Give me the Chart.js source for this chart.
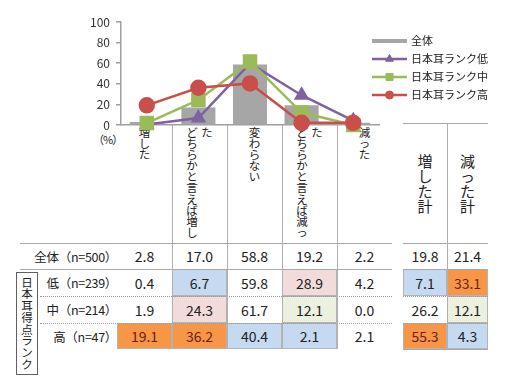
<!DOCTYPE html>
<html><head><meta charset="utf-8">
<script src="https://cdn.jsdelivr.net/npm/chart.js@4"></script>
<style>
body{margin:0;background:#fff;}
#wrap{position:relative;width:512px;height:384px;overflow:hidden;font-family:"Noto Sans CJK JP",sans-serif;color:#222;}
#c{position:absolute;left:0;top:0;z-index:2;pointer-events:none;}
.ab{position:absolute;}
.hl{position:absolute;height:0;border-top:1.5px solid #a8a8a8;}
.dl{position:absolute;height:0;border-top:1px dotted #9a9a9a;}
.vl{position:absolute;width:0;border-left:1.5px solid #b0b0b0;}
.cell{position:absolute;display:flex;align-items:center;justify-content:center;font-size:14px;box-sizing:border-box;}
.hdr{position:absolute;display:flex;justify-content:center;align-items:flex-start;}
.vs{display:flex;flex-direction:row;align-items:flex-start;}
.vc{width:1em;word-break:break-all;line-break:anywhere;text-align:center;}
</style></head>
<body><div id="wrap"><div id="tbl"></div><canvas id="c" width="512" height="384"></canvas></div>
<script>
// ---- data ----
const categories = ["増した","どちらかと言えば増した","変わらない","どちらかと言えば減った","減った"];
const seriesNames = ["全体","日本耳ランク低","日本耳ランク中","日本耳ランク高"];
const overall  = [2.8, 17.0, 58.8, 19.2, 2.2];
const rankLow  = [0.4, 6.7, 59.8, 28.9, 4.2];
const rankMid  = [1.9, 24.3, 61.7, 12.1, 0.0];
const rankHigh = [19.1, 36.2, 40.4, 2.1, 2.1];
const yTicks = [0, 20, 40, 60, 80, 100];
const rowLabels = ["全体（n=500）","低（n=239）","中（n=214）","高（n=47）"];
const totalLabels = ["増した計","減った計"];
const increaseTotal = [19.8, 7.1, 26.2, 55.3];
const decreaseTotal = [21.4, 33.1, 12.1, 4.3];
const groupLabel = "日本耳得点ランク";
const unitLabel = "（%）";

// ---- styles ----
const FONT = '"Noto Sans CJK JP", sans-serif';
const colors = {bar:'#a6a6a6', low:'#7f62a1', mid:'#9bbb59', high:'#c9504a'};
const fills = {o:'#f79646', b:'#c5d9f1', p:'#f2dcdb', g:'#ebf1de'};
const highlight = {"1,1":'b',"1,3":'p',"1,5":'b',"1,6":'o',
                   "2,1":'p',"2,3":'g',"2,6":'g',
                   "3,0":'o',"3,1":'o',"3,2":'b',"3,3":'b',"3,5":'o',"3,6":'b'};

// ---- table layout ----
const colX = [117,172,227,282,337,392];
const totX = [403,447,488];
const rowY = [243,269,296,323,349];
const tbl = document.getElementById('tbl');
function el(cls, css, html){const d=document.createElement('div');d.className=cls;d.style.cssText=css;if(html!==undefined)d.innerHTML=html;tbl.appendChild(d);return d;}
function vstack(text, size, lh, maxPer, gap){
  const chars = Array.from(text);
  let cols = [];
  for (let i = 0; i < chars.length; i += maxPer) cols.push(chars.slice(i, i+maxPer).join(''));
  return `<div class="vs" style="font-size:${size}px;line-height:${lh}px;gap:${gap}px;">` +
    cols.map(c => `<div class="vc">${c}</div>`).join('') + '</div>';
}

const tableRows = [overall, rankLow, rankMid, rankHigh];
const totals = [increaseTotal, decreaseTotal];
tableRows.forEach((row, r) => {
  const y0 = rowY[r], h = rowY[r+1]-rowY[r];
  row.forEach((v, c) => {
    const k = highlight[r+','+c];
    const bg = k ? `background:${fills[k]};border:1px solid #b4b4b4;` : '';
    const col = k==='o' ? 'color:#6b1e12;' : '';
    el('cell', `left:${colX[c]}px;top:${y0}px;width:${colX[c+1]-colX[c]}px;height:${h}px;${bg}${col}`, v.toFixed(1));
  });
  totals.forEach((arr, j) => {
    const c = 5+j;
    const k = highlight[r+','+c];
    const bg = k ? `background:${fills[k]};border:1px solid #b4b4b4;` : '';
    const col = k==='o' ? 'color:#6b1e12;' : '';
    el('cell', `left:${totX[j]}px;top:${y0}px;width:${totX[j+1]-totX[j]}px;height:${h}px;${bg}${col}`, arr[r].toFixed(1));
  });
  el('cell', `left:10px;top:${y0}px;width:107px;height:${h}px;justify-content:flex-end;font-size:12.5px;letter-spacing:-0.3px;white-space:nowrap;`, rowLabels[r]);
});
categories.forEach((t, c) => {
  el('hdr', `left:${colX[c]}px;top:127px;width:${colX[c+1]-colX[c]}px;height:114px;`,
     vstack(t, 11.5, 11.1, 10, 3.5));
});
totalLabels.forEach((t, j) => {
  el('hdr', `left:${totX[j]}px;top:123px;width:${totX[j+1]-totX[j]}px;height:120px;align-items:center;`,
     vstack(t, 15, 15, 10, 0));
});
el('hdr', `left:16px;top:272px;width:22px;height:103px;box-sizing:border-box;border:1.5px solid #606060;align-items:center;background:#fff;`,
   vstack(groupLabel, 11.5, 11.7, 10, 0));
el('ab', `left:93px;top:131px;font-size:11px;line-height:16px;white-space:nowrap;letter-spacing:-1px;`, unitLabel);
el('hl', `left:20px;top:${rowY[0]}px;width:372px;`);
el('hl', `left:20px;top:${rowY[1]}px;width:372px;`);
el('dl', `left:40px;top:${rowY[2]}px;width:352px;`);
el('dl', `left:40px;top:${rowY[3]}px;width:352px;`);
[1,2,3,4].forEach(i => el('vl', `left:${colX[i]}px;top:125px;height:${rowY[4]-125}px;`));
el('hl', `left:${totX[0]}px;top:123px;width:${totX[2]-totX[0]}px;`);
el('hl', `left:${totX[0]}px;top:${rowY[0]}px;width:${totX[2]-totX[0]}px;`);
el('hl', `left:${totX[0]}px;top:${rowY[1]}px;width:${totX[2]-totX[0]}px;`);
el('dl', `left:${totX[0]}px;top:${rowY[2]}px;width:${totX[2]-totX[0]}px;`);
el('dl', `left:${totX[0]}px;top:${rowY[3]}px;width:${totX[2]-totX[0]}px;`);
el('hl', `left:${totX[0]}px;top:${rowY[4]}px;width:${totX[2]-totX[0]}px;`);
el('vl', `left:${totX[1]}px;top:123px;height:${rowY[4]-123}px;`);

// ---- chart ----
const legendRadius = {triangle:4.5, rect:5, circle:4};
const legendPlugin = {
  id:'customLegend',
  afterDraw(chart){
    const ctx = chart.ctx;
    const x0 = 372, x1 = 407, ys = [41, 59, 77, 95];
    ctx.save();
    chart.data.datasets.forEach((ds, i) => {
      const y = ys[i];
      if (ds.type === 'bar') {
        ctx.fillStyle = ds.backgroundColor;
        ctx.fillRect(x0, y-2, x1-x0, 4);
      } else {
        ctx.strokeStyle = ds.borderColor; ctx.lineWidth = 2.5;
        ctx.beginPath(); ctx.moveTo(x0, y); ctx.lineTo(x1, y); ctx.stroke();
        ctx.fillStyle = ds.backgroundColor; ctx.lineWidth = 1;
        Chart.helpers.drawPoint(ctx, {pointStyle: ds.pointStyle, radius: legendRadius[ds.pointStyle], rotation: 0, borderWidth: 1}, (x0+x1)/2, y);
      }
      ctx.fillStyle = '#222';
      ctx.font = '11px ' + FONT;
      ctx.textBaseline = 'middle';
      ctx.textAlign = 'left';
      ctx.fillText(ds.label, x1 + 4, y);
    });
    ctx.restore();
  }
};

const lineDs = (label, data, color, style, r, order) => ({
  type:'line', label, data, borderColor:color, backgroundColor:color, pointBackgroundColor:color,
  pointBorderColor:color, pointStyle:style, pointRadius:r, borderWidth:2.5, order, clip:false, tension:0
});

new Chart(document.getElementById('c'), {
  type:'bar',
  data:{labels:categories, datasets:[
    {type:'bar', label:seriesNames[0], data:overall, backgroundColor:colors.bar, order:4, barPercentage:0.66, categoryPercentage:1},
    lineDs(seriesNames[1], rankLow, colors.low, 'triangle', 6.5, 3),
    lineDs(seriesNames[2], rankMid, colors.mid, 'rect', 8.5, 2),
    lineDs(seriesNames[3], rankHigh, colors.high, 'circle', 7, 1)
  ]},
  options:{
    responsive:false, animation:false, devicePixelRatio:1,
    layout:{padding:{left:80, top:22, right:133, bottom:259}},
    plugins:{legend:{display:false}, tooltip:{enabled:false}},
    scales:{
      x:{grid:{display:false}, ticks:{display:false}, border:{color:'#a0a0a0', width:1.5},
         afterFit(s){s.height = 0;}},
      y:{min:0, max:100,
         afterBuildTicks(s){s.ticks = yTicks.map(v => ({value:v}));},
         ticks:{font:{size:12, family:FONT}, color:'#333', padding:6},
         grid:{drawOnChartArea:false, tickLength:5, color:'#a0a0a0', lineWidth:1.5},
         border:{color:'#a0a0a0', width:1.5},
         afterFit(s){s.width = 41;}}
    }
  },
  plugins:[legendPlugin]
});
</script></body></html>
